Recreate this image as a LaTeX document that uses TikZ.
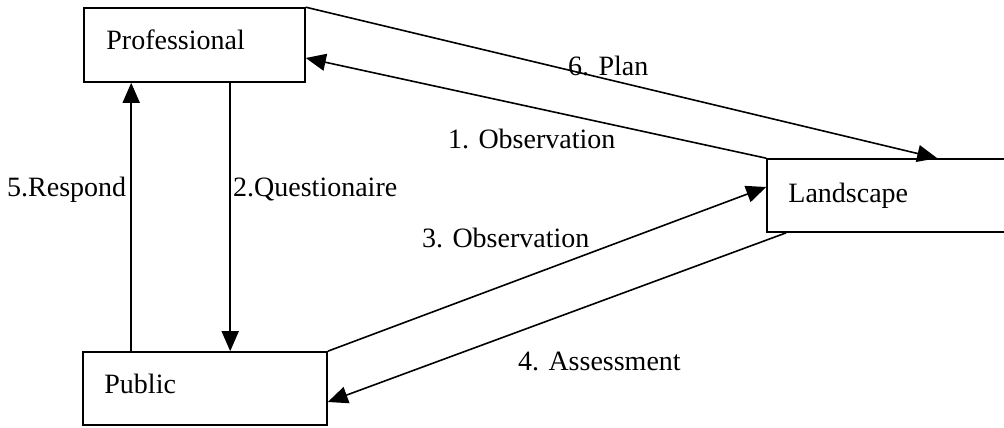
\documentclass[tikz,border=0pt]{standalone}
\usepackage{fontspec}
\setmainfont{Liberation Serif}
\usetikzlibrary{arrows.meta,calc}
\begin{document}
\begin{tikzpicture}[x=1pt,y=-1pt,
  box/.style={draw,line width=1.6pt,rectangle,inner sep=0pt},
  boxtext/.style={anchor=base west,inner sep=0pt,font=\fontsize{28}{34}\selectfont},
  lbl/.style={anchor=base west,inner sep=0pt,font=\fontsize{28}{34}\selectfont},
  flow/.style={line width=1.6pt,-{Triangle[length=20pt,width=17pt]}}]
\useasboundingbox (0,0) rectangle (1004,428);
\clip (0,0) rectangle (1004,428);
% the three actors
\node[box,minimum width=221pt,minimum height=74pt] (prof) at (194.5,45) {};
\node[box,minimum width=253pt,minimum height=73pt] (land) at (893.5,195.5) {};
\node[box,minimum width=244pt,minimum height=73pt] (pub) at (205,388.5) {};
\node[boxtext] (proft) at ($(prof.west)+(23,5)$) {Professional};
\node[boxtext] (landt) at ($(land.west)+(22,6.5)$) {Landscape};
\node[boxtext] (pubt) at ($(pub.west)+(22,4.5)$) {Public};
% flows between them
\draw[flow] (prof.north east) -- ($(land.north west)+(171,0)$);
\draw[flow] (land.north west) -- ($(prof.east)+(0,13)$);
\draw[flow] (pub.north east) -- ($(land.west)+(0,-8.5)$);
\draw[flow] ($(land.south west)+(20,0)$) -- ($(pub.east)+(0,13.5)$);
\coordinate (r0) at ($(pub.north west)+(49,0)$);
\draw[flow] (r0) -- (r0 |- prof.south);
\coordinate (q0) at ($(prof.south west)+(147,0)$);
\draw[flow] (q0) -- (q0 |- pub.north);
% flow labels
\node[lbl] (l6) at (568,75) {6. Plan};
\node[lbl] (l1) at (448,148) {1. Observation};
\node[lbl] (l3) at (422,247) {3. Observation};
\node[lbl] (l4) at (518,370) {4. Assessment};
\node[lbl] (l5) at (7,196) {5.Respond};
\node[lbl] (l2) at (233,196) {2.Questionaire};
\end{tikzpicture}
\end{document}
